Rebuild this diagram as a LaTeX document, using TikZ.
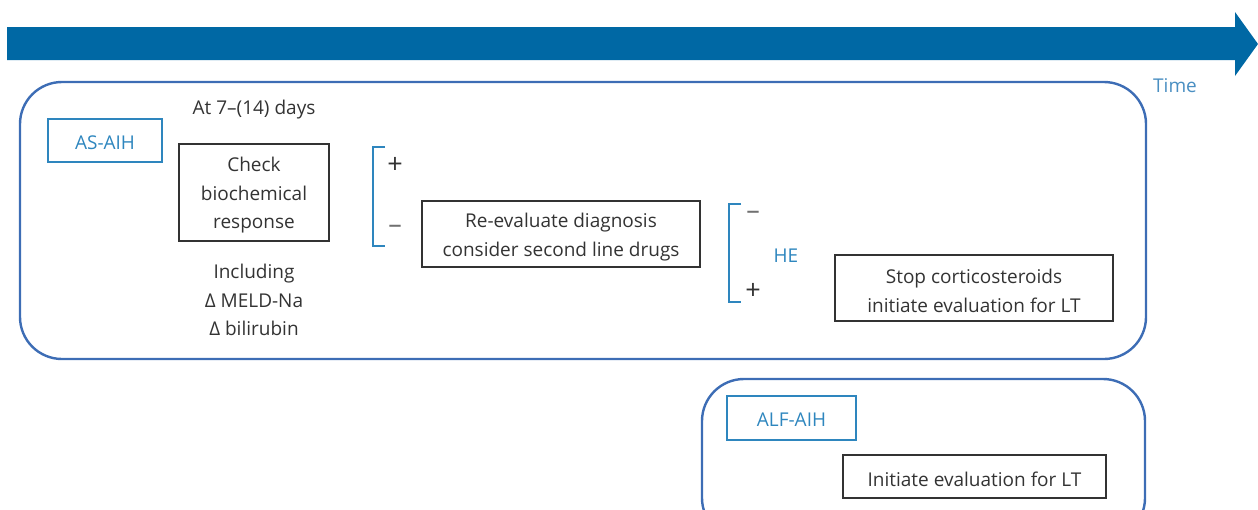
\documentclass[tikz,border=0pt]{standalone}
\usepackage{fontspec}
\setmainfont{Open Sans}
\definecolor{arrowblue}{HTML}{0068A4}
\definecolor{frameblue}{HTML}{3D6DB5}
\definecolor{labelblue}{HTML}{2E86BE}
\definecolor{timeblue}{HTML}{4A8FC2}
\definecolor{txt}{HTML}{333333}
\tikzset{
  boxfont/.style={font=\fontsize{19}{28.5}\selectfont},
  plain/.style={draw=txt, line width=1.3pt, inner sep=0pt},
  intext/.style={text=txt, align=center, inner sep=0pt, boxfont, yshift=-3pt},
  tag/.style={draw=labelblue, line width=1.5pt, inner sep=0pt},
  tagtext/.style={text=labelblue, inner sep=0pt, boxfont, yshift=-2pt},
  frame/.style={draw=frameblue, line width=2.4pt, rounded corners=42pt},
  lbl/.style={text=txt, align=center, inner sep=0pt, boxfont, yshift=-3pt},
  sign/.style={text=txt, inner sep=0pt, font=\fontsize{27}{30}\selectfont},
  msign/.style={text=txt!70, inner sep=0pt, font=\fontsize{27}{30}\selectfont},
  brk/.style={draw=labelblue, line width=1.6pt}
}
\begin{document}
\begin{tikzpicture}[x=1pt,y=-1pt]
\useasboundingbox (0,0) rectangle (1258,509);
% time arrow
\fill[arrowblue] (7,27) -- (1235,27) -- (1235,12) -- (1258,44) -- (1235,76) -- (1235,60) -- (7,60) -- cycle;
\node[tagtext, text=timeblue, yshift=-1pt] (time) at (1175,83) {Time};
% frames
\draw[frame] (20,82) rectangle (1146,359);
\begin{scope}
\clip (0,0) rectangle (1258,509);
\draw[frame] (702,379) rectangle (1145,540);
\end{scope}
% AS-AIH
\node[tag, minimum width=114pt, minimum height=43pt,
  label={[tagtext]center:AS-AIH}] (asaih) at (105,140.5) {};
\node[lbl] (at) at (254,107) {At 7–(14) days};
\node[plain, minimum width=150pt, minimum height=97pt,
  label={[intext]center:{Check\\biochemical\\response}}] (check) at (254,192.5) {};
\node[lbl] (incl) at (254,297) {Including\\Δ MELD-Na\\Δ bilirubin};
% bracket 1
\coordinate (b1a) at (385,147);
\coordinate (b1b) at (385,246);
\draw[brk] (b1a) -- ++(-12,0) |- (b1b);
\node[sign] (plus1) at (395,165) {+};
\node[msign] (minus1) at (395,229) {–};
\node[plain, minimum width=278pt, minimum height=66pt,
  label={[intext]center:{Re-evaluate diagnosis\\consider second line drugs}}] (reeval) at (561,234) {};
% bracket 2
\coordinate (b2a) at (741,204);
\coordinate (b2b) at (741,302);
\draw[brk] (b2a) -- ++(-12,0) |- (b2b);
\node[msign] (minus2) at (753,215) {–};
\node[sign] (plus2) at (753,291) {+};
\node[tagtext] (he) at (786,254) {HE};
\node[plain, minimum width=278pt, minimum height=66pt,
  label={[intext]center:{Stop corticosteroids\\initiate evaluation for LT}}] (stop) at (974,288) {};
% ALF-AIH
\node[tag, minimum width=129pt, minimum height=44pt,
  label={[tagtext]center:ALF-AIH}] (alf) at (791.5,418) {};
\node[plain, minimum width=263pt, minimum height=43pt,
  label={[intext]center:{Initiate evaluation for LT}}] (init) at (974.5,476.5) {};
\end{tikzpicture}
\end{document}
